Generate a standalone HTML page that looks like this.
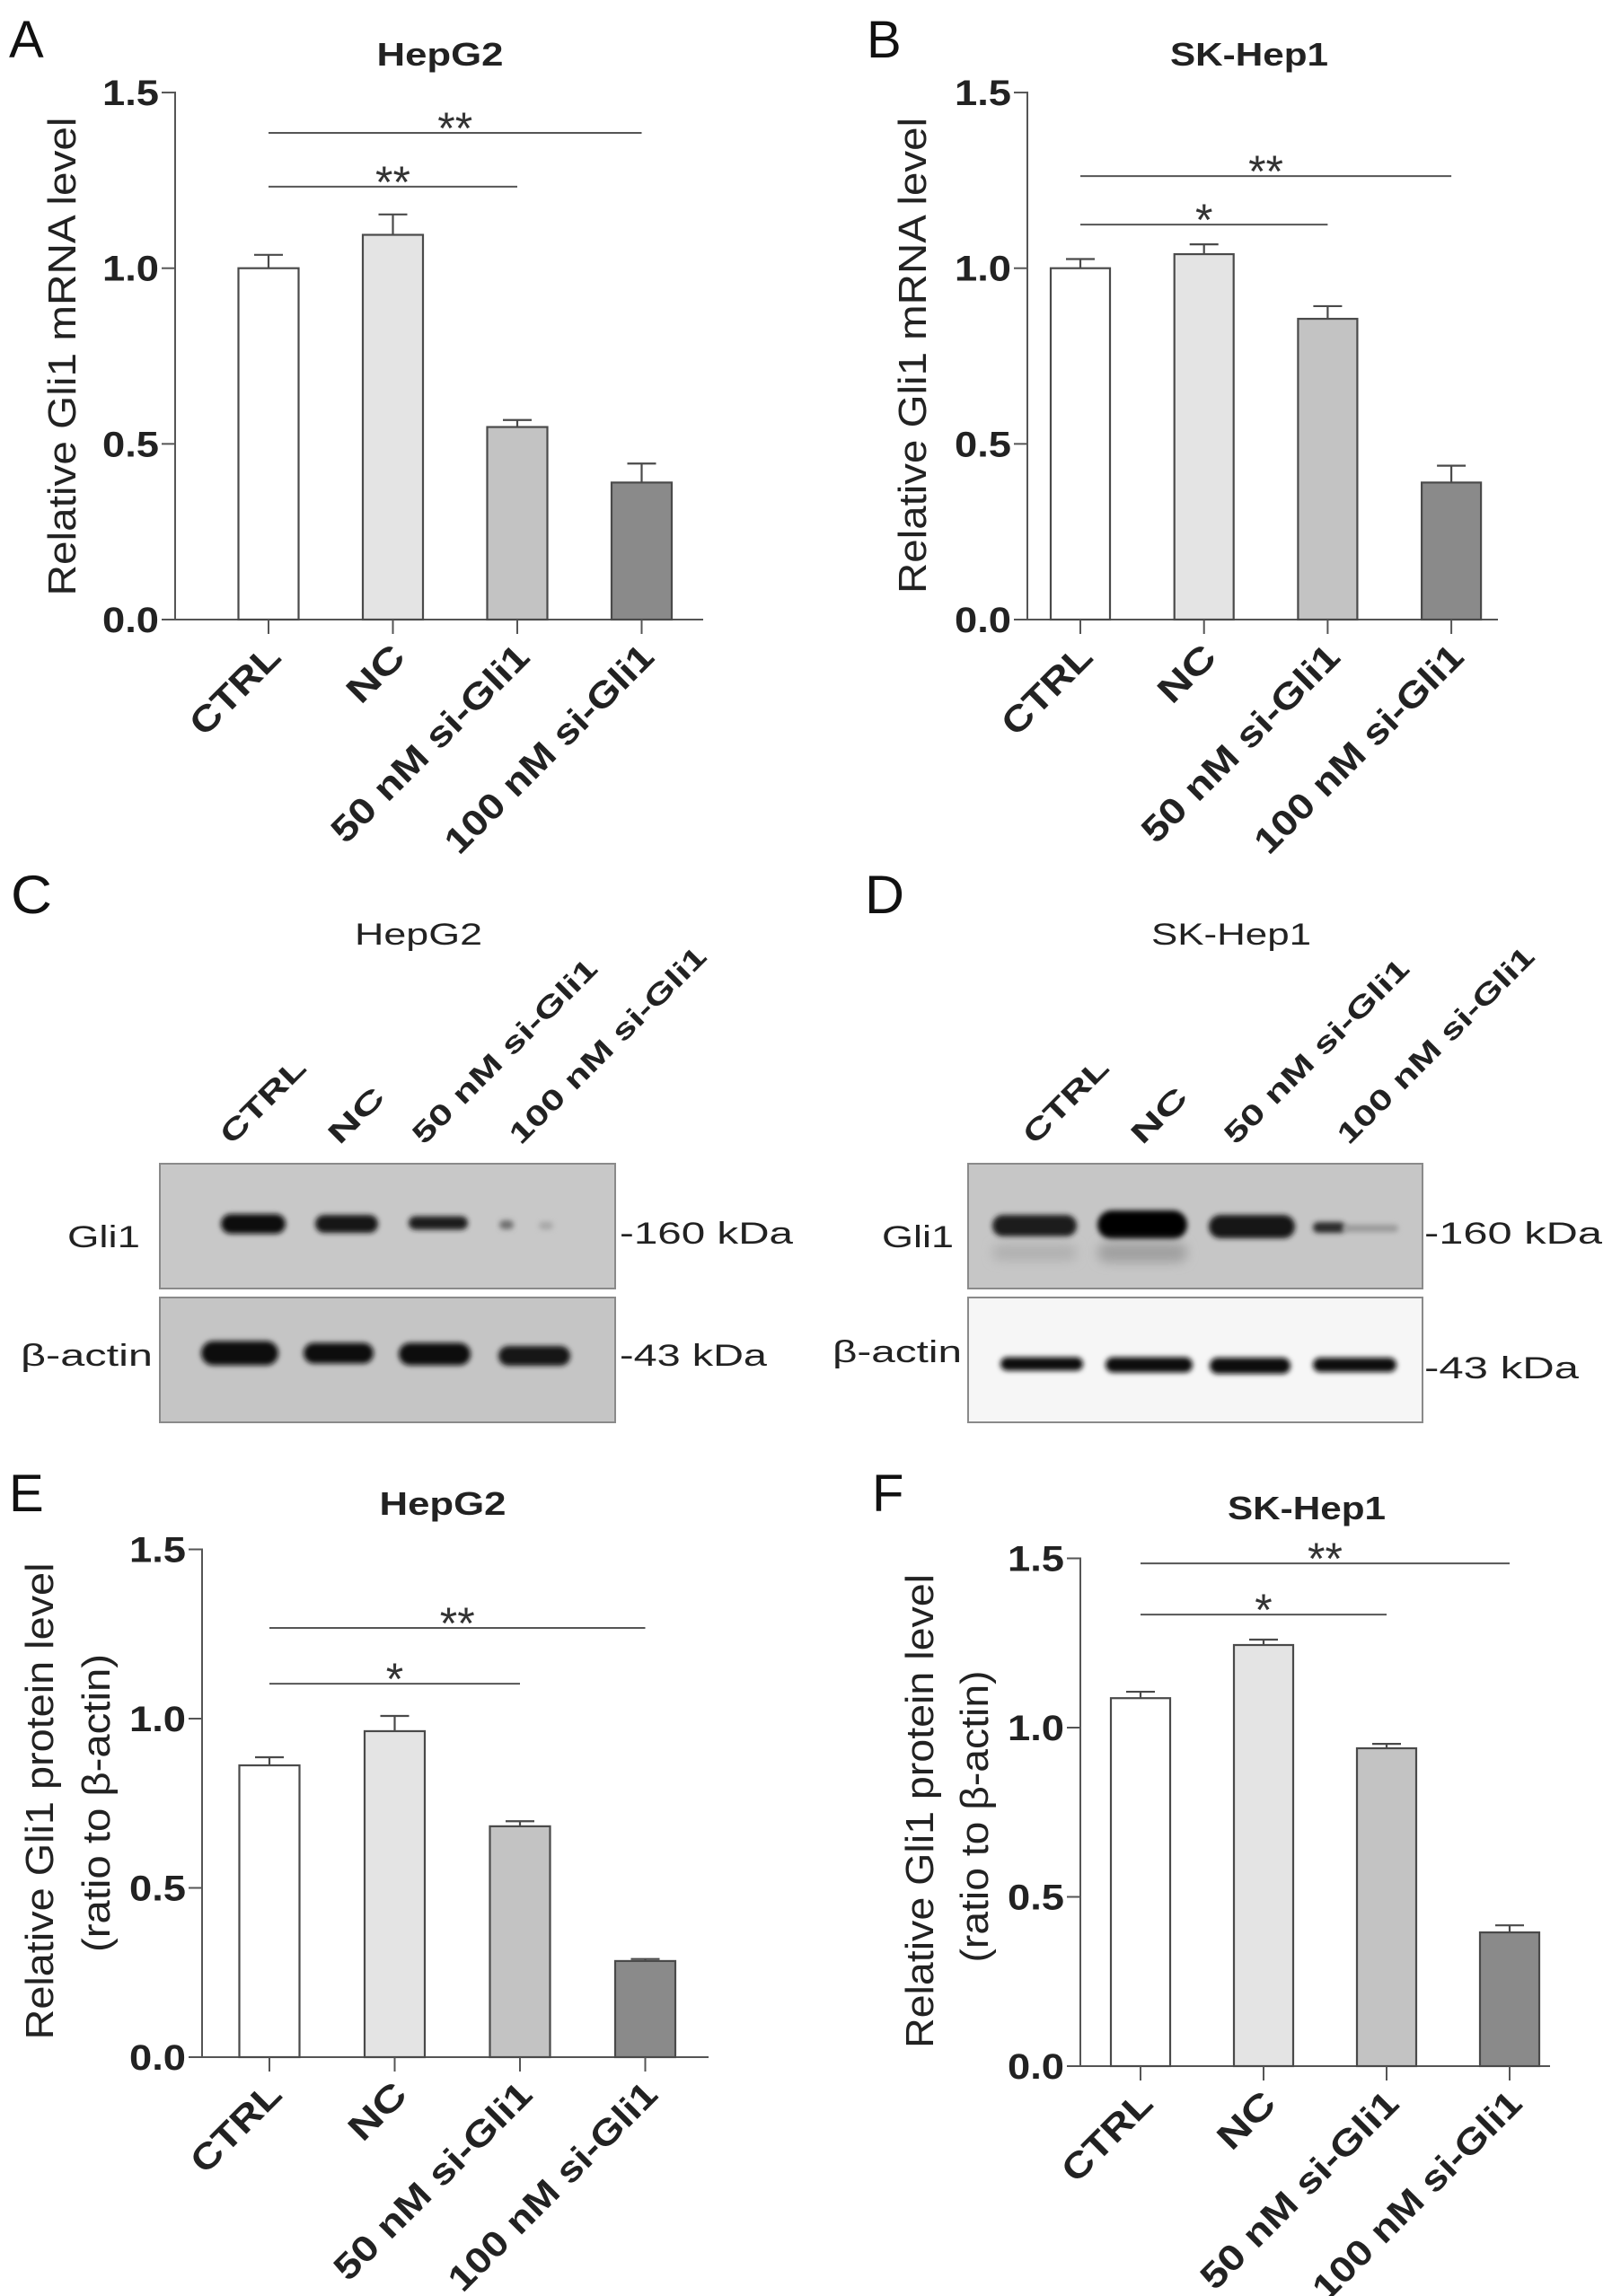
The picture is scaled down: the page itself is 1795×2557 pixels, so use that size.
<!DOCTYPE html>
<html><head><meta charset="utf-8"><title>Gli1 knockdown figure</title>
<style>
html,body{margin:0;padding:0;background:#fff;}
svg{display:block;}
text{font-family:"Liberation Sans",Arial,sans-serif;}
</style></head>
<body>
<svg id="fig" xmlns="http://www.w3.org/2000/svg" width="1795" height="2557" viewBox="0 0 1795 2557">
<defs>
<filter id="blur3" x="-30%" y="-80%" width="160%" height="260%"><feGaussianBlur stdDeviation="3"/></filter>
<filter id="blur6" x="-30%" y="-80%" width="160%" height="260%"><feGaussianBlur stdDeviation="6"/></filter>
</defs>
<g id="root"></g>
</svg>
<script>
// ---------- chart data ----------
const categories = ["CTRL", "NC", "50 nM si-Gli1", "100 nM si-Gli1"];
const yTicks = [0.0, 0.5, 1.0, 1.5];
const yTickLabels = ["0.0", "0.5", "1.0", "1.5"];
const barFills = ["#ffffff", "#e4e4e4", "#c3c3c3", "#8a8a8a"];
const labelLens = [124, 73, 293, 310];

const aValues = [1.00, 1.095, 0.548, 0.390];
const aErrors = [0.038, 0.058, 0.020, 0.054];
const aSigY = [1.385, 1.232];
const aSigLabels = ["**", "**"];
const aSigTo = [3, 2];

const bValues = [1.00, 1.04, 0.856, 0.390];
const bErrors = [0.026, 0.028, 0.036, 0.048];
const bSigY = [1.262, 1.124];
const bSigLabels = ["**", "*"];
const bSigTo = [3, 2];

const eValues = [0.862, 0.963, 0.682, 0.284];
const eErrors = [0.024, 0.045, 0.015, 0.006];
const eSigY = [1.268, 1.103];
const eSigLabels = ["**", "*"];
const eSigTo = [3, 2];

const fValues = [1.087, 1.244, 0.939, 0.395];
const fErrors = [0.019, 0.016, 0.013, 0.021];
const fSigY = [1.485, 1.334];
const fSigLabels = ["**", "*"];
const fSigTo = [3, 2];

const NS = "http://www.w3.org/2000/svg";
const root = document.getElementById("root");
function mk(tag, attrs, parent) {
  const el = document.createElementNS(NS, tag);
  for (const k in attrs) el.setAttribute(k, attrs[k]);
  (parent || root).appendChild(el);
  return el;
}
function txt(str, attrs, parent) {
  const t = mk("text", attrs, parent);
  t.textContent = str;
  return t;
}

function drawChart(id, L, values, errors, sigY, sigTo, sigLabels) {
  const g = mk("g", {});
  
  
  const yS = v => L.y0 - v * L.unit;
  const xS = i => L.c0 + i * L.step;
  const lt = txt(L.letter, {x: L.lx, y: L.ly, "font-size": 58, fill: "#111"}, g);
  
  
  const tt = txt(L.title, {x: L.tx, y: L.ty, "font-size": 36, "font-weight": "bold", "text-anchor": "middle", textLength: L.tlen, lengthAdjust: "spacingAndGlyphs", fill: "#222"}, g);
  
  
  const ya = mk("line", {x1: L.ax, y1: yS(1.5) - 1, x2: L.ax, y2: L.y0, stroke: "#555", "stroke-width": 2}, g);
  
  
  yTicks.forEach((v, i) => {
    const tk = mk("line", {x1: L.ax - 15, y1: yS(v), x2: L.ax, y2: yS(v), stroke: "#555", "stroke-width": 2}, g);
    
    
    const tl = txt(yTickLabels[i], {x: L.ax - 18, y: yS(v) + 14, "font-size": 40, "font-weight": "bold", "text-anchor": "end", textLength: 63, lengthAdjust: "spacingAndGlyphs", fill: "#222"}, g);
    
    
  });
  const xa = mk("line", {x1: L.ax, y1: L.y0, x2: L.xEnd, y2: L.y0, stroke: "#555", "stroke-width": 2}, g);
  
  
  L.yt.forEach(line => {
    const yl = txt(line.s, {x: 0, y: 0, "font-size": 44, "text-anchor": "middle", textLength: line.len, lengthAdjust: "spacingAndGlyphs", fill: "#222", transform: `translate(${line.x},${line.y}) rotate(-90)`}, g);
    
    
  });
  categories.forEach((c, i) => {
    const cx = xS(i);
    const top = yS(values[i]);
    const r = mk("rect", {x: cx - L.bw / 2, y: top, width: L.bw, height: L.y0 - top, fill: barFills[i], stroke: "#4a4a4a", "stroke-width": 2.2}, g);
    
    
    const et = yS(values[i] + errors[i]);
    const e1 = mk("line", {x1: cx, y1: top, x2: cx, y2: et, stroke: "#4a4a4a", "stroke-width": 2.2}, g);
    
    
    const e2 = mk("line", {x1: cx - 16, y1: et, x2: cx + 16, y2: et, stroke: "#4a4a4a", "stroke-width": 2.2}, g);
    
    
    const xt = mk("line", {x1: cx, y1: L.y0, x2: cx, y2: L.y0 + 16, stroke: "#555", "stroke-width": 2}, g);
    
    
    const xl = txt(c, {x: 0, y: 0, "font-size": 40, "font-weight": "bold", "text-anchor": "end", textLength: labelLens[i], lengthAdjust: "spacingAndGlyphs", fill: "#222", transform: `translate(${cx + 16},${L.y0 + 44}) rotate(-45)`}, g);
    
    
  });
  sigY.forEach((v, k) => {
    const y = yS(v);
    const x1 = xS(0), x2 = xS(sigTo[k]);
    const sl = mk("line", {x1: x1, y1: y, x2: x2, y2: y, stroke: "#555", "stroke-width": 2}, g);
    
    
    const st = txt(sigLabels[k], {x: (x1 + x2) / 2, y: y + 12, "font-size": 50, "text-anchor": "middle", fill: "#333"}, g);
    
    
  });
}

drawChart("panel-a", {letter: "A", lx: 10, ly: 64, title: "HepG2", tx: 490, ty: 73, tlen: 141,
  ax: 195, y0: 690, unit: 391.3, xEnd: 783, c0: 299, step: 138.5, bw: 67,
  yt: [{s: "Relative Gli1 mRNA level", x: 84, y: 397, len: 533}]},
  aValues, aErrors, aSigY, aSigTo, aSigLabels);
drawChart("panel-b", {letter: "B", lx: 965, ly: 64, title: "SK-Hep1", tx: 1391, ty: 73, tlen: 176,
  ax: 1144, y0: 690, unit: 391.3, xEnd: 1668, c0: 1203, step: 137.7, bw: 66,
  yt: [{s: "Relative Gli1 mRNA level", x: 1031, y: 396, len: 530}]},
  bValues, bErrors, bSigY, bSigTo, bSigLabels);
drawChart("panel-e", {letter: "E", lx: 10, ly: 1683, title: "HepG2", tx: 493, ty: 1687, tlen: 141,
  ax: 225, y0: 2291, unit: 377, xEnd: 789, c0: 300, step: 139.5, bw: 67,
  yt: [{s: "Relative Gli1 protein level", x: 59, y: 2006, len: 531}, {s: "(ratio to  β-actin)", x: 122, y: 2008, len: 332}]},
  eValues, eErrors, eSigY, eSigTo, eSigLabels);
drawChart("panel-f", {letter: "F", lx: 971, ly: 1683, title: "SK-Hep1", tx: 1455, ty: 1692, tlen: 176,
  ax: 1203, y0: 2301, unit: 377, xEnd: 1726, c0: 1270, step: 137, bw: 66,
  yt: [{s: "Relative Gli1 protein level", x: 1039, y: 2017, len: 528}, {s: "(ratio to  β-actin)", x: 1100, y: 2023, len: 325}]},
  fValues, fErrors, fSigY, fSigTo, fSigLabels);

// ---------- western blots ----------
function drawBlot(id, B) {
  const g = mk("g", {});
  
  
  const lt = txt(B.letter, {x: B.lx, y: 1017, "font-size": 60, textLength: B.llen, lengthAdjust: "spacingAndGlyphs", fill: "#111"}, g);
  
  
  const tt = txt(B.title, {x: B.tx, y: 1052, "font-size": 34, "text-anchor": "middle", textLength: B.tlen, lengthAdjust: "spacingAndGlyphs", fill: "#222"}, g);
  
  
  B.lanes.forEach(l => {
    const ll = txt(l.s, {x: 0, y: 0, "font-size": 32, "font-weight": "bold", textLength: l.len, lengthAdjust: "spacingAndGlyphs", fill: "#222", transform: `translate(${l.x},1276) rotate(-45)`}, g);
    
    
  });
  const r1 = mk("rect", {x: B.bx, y: 1296, width: B.bw, height: 139, fill: B.bg1, stroke: "#8a8a8a", "stroke-width": 2}, g);
  
  
  const r2 = mk("rect", {x: B.bx, y: 1445, width: B.bw, height: 139, fill: B.bg2, stroke: "#8a8a8a", "stroke-width": 2}, g);
  
  
  B.bands.forEach(b => {
    const e = mk("rect", {x: b[0], y: b[1] - b[2] / 2, width: b[3], height: b[2], rx: b[2] / 2, fill: b[4], filter: b[5] ? "url(#blur6)" : "url(#blur3)"}, g);
    
    
  });
  B.labels.forEach(t => {
    const el = txt(t.s, {x: t.x, y: t.y, "font-size": 34, textLength: t.len, lengthAdjust: "spacingAndGlyphs", fill: "#222"}, g);
    
    
  });
}

drawBlot("panel-c", {letter: "C", lx: 12, llen: 46, title: "HepG2", tx: 466, tlen: 142,
  bx: 178, bw: 507, bg1: "#c8c8c8", bg2: "#c5c5c5",
  lanes: [{s: "CTRL", x: 258, len: 120}, {s: "NC", x: 378, len: 74}, {s: "50 nM si-Gli1", x: 472, len: 276}, {s: "100 nM si-Gli1", x: 580, len: 295}],
  bands: [[246, 1363, 22, 72, "#0d0d0d"], [351, 1363, 20, 70, "#141414"], [455, 1362, 15, 66, "#1c1c1c"],
          [556, 1364, 10, 16, "#707070"], [600, 1365, 9, 16, "#a8a8a8"],
          [224, 1507, 27, 86, "#0d0d0d"], [338, 1507, 23, 78, "#111"], [444, 1508, 25, 80, "#0f0f0f"], [555, 1510, 22, 80, "#131313"]],
  labels: [{s: "Gli1", x: 75, y: 1389, len: 81, n: "gli1-label"}, {s: "β-actin", x: 23, y: 1521, len: 147, n: "actin-label"},
           {s: "-160 kDa", x: 690, y: 1385, len: 193, n: "gli1-size"}, {s: "-43 kDa", x: 690, y: 1521, len: 164, n: "actin-size"}]});

drawBlot("panel-d", {letter: "D", lx: 963, llen: 44, title: "SK-Hep1", tx: 1371, tlen: 178,
  bx: 1078, bw: 506, bg1: "#c6c6c6", bg2: "#f6f6f6",
  lanes: [{s: "CTRL", x: 1152, len: 120}, {s: "NC", x: 1272, len: 74}, {s: "50 nM si-Gli1", x: 1376, len: 276}, {s: "100 nM si-Gli1", x: 1502, len: 295}],
  bands: [[1105, 1365, 24, 94, "#1a1a1a"], [1222, 1364, 32, 100, "#060606"], [1346, 1366, 26, 96, "#151515"],
          [1462, 1367, 12, 36, "#2a2a2a"], [1495, 1368, 8, 62, "#9a9a9a"],
          [1105, 1395, 18, 94, "#b0b0b0", 1], [1222, 1395, 22, 100, "#a0a0a0", 1],
          [1114, 1519, 15, 92, "#111"], [1231, 1520, 17, 97, "#0d0d0d"], [1347, 1521, 18, 90, "#0b0b0b"], [1462, 1520, 16, 93, "#111"]],
  labels: [{s: "Gli1", x: 982, y: 1389, len: 80, n: "gli1-label"}, {s: "β-actin", x: 927, y: 1517, len: 144, n: "actin-label"},
           {s: "-160 kDa", x: 1586, y: 1385, len: 198, n: "gli1-size"}, {s: "-43 kDa", x: 1586, y: 1535, len: 172, n: "actin-size"}]});
</script>
</body></html>
